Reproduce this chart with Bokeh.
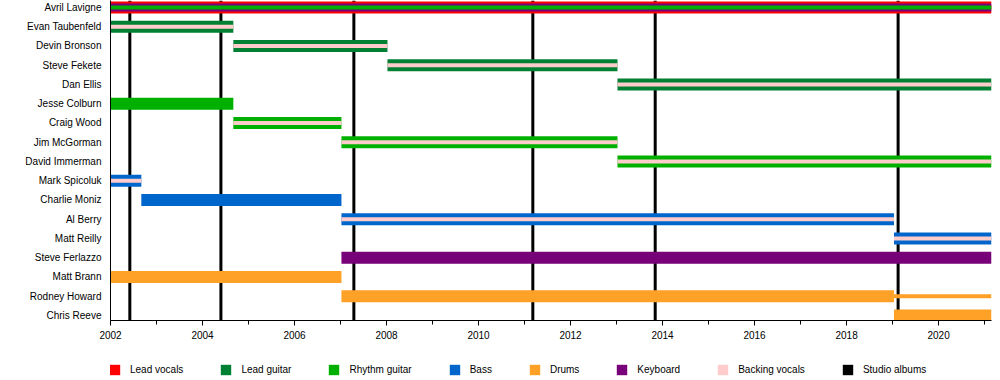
from bokeh.plotting import figure
from bokeh.models import Range1d, FixedTicker, ColumnDataSource, Legend, LegendItem
from bokeh.layouts import column
from bokeh.embed import file_html
from bokeh.resources import INLINE

# ---------------- data ----------------
members = ["Avril Lavigne", "Evan Taubenfeld", "Devin Bronson", "Steve Fekete", "Dan Ellis",
           "Jesse Colburn", "Craig Wood", "Jim McGorman", "David Immerman", "Mark Spicoluk",
           "Charlie Moniz", "Al Berry", "Matt Reilly", "Steve Ferlazzo", "Matt Brann",
           "Rodney Howard", "Chris Reeve"]

END = 2021.15

seg_member = ["Avril Lavigne", "Evan Taubenfeld", "Devin Bronson", "Steve Fekete", "Dan Ellis",
              "Jesse Colburn", "Craig Wood", "Jim McGorman", "David Immerman", "Mark Spicoluk",
              "Charlie Moniz", "Al Berry", "Matt Reilly", "Steve Ferlazzo", "Matt Brann",
              "Rodney Howard", "Rodney Howard", "Chris Reeve"]
seg_start = [2002.0, 2002.0, 2004.67, 2008.02, 2013.02,
             2002.0, 2004.67, 2007.02, 2013.02, 2002.0,
             2002.67, 2007.02, 2019.03, 2007.02, 2002.0,
             2007.02, 2019.03, 2019.03]
seg_end = [END, 2004.67, 2008.02, 2013.02, END,
           2004.67, 2007.02, 2013.02, END, 2002.67,
           2007.02, 2019.03, END, END, 2007.02,
           2019.03, END, END]
seg_role1 = ["Lead vocals", "Lead guitar", "Lead guitar", "Lead guitar", "Lead guitar",
             "Rhythm guitar", "Rhythm guitar", "Rhythm guitar", "Rhythm guitar", "Bass",
             "Bass", "Bass", "Bass", "Keyboard", "Drums",
             "Drums", "Drums", "Drums"]
seg_role2 = ["Keyboard", "Backing vocals", "Backing vocals", "Backing vocals", "Backing vocals",
             "", "Backing vocals", "Backing vocals", "Backing vocals", "Backing vocals",
             "", "Backing vocals", "Backing vocals", "", "",
             "", "", ""]
seg_role3 = ["Rhythm guitar", "", "", "", "",
             "", "", "", "", "",
             "", "", "", "", "",
             "", "", ""]
seg_kind = ["full"] * 16 + ["thin", "full"]

albums = [2002.42, 2004.40, 2007.29, 2011.18, 2013.84, 2019.12]

legend_labels = ["Lead vocals", "Lead guitar", "Rhythm guitar", "Bass", "Drums",
                 "Keyboard", "Backing vocals", "Studio albums"]
x_ticks = [2002, 2004, 2006, 2008, 2010, 2012, 2014, 2016, 2018, 2020]
x_minor = list(range(2002, 2022))

# ---------------- styling ----------------
colors = {"Lead vocals": "#FF0000", "Lead guitar": "#008033", "Rhythm guitar": "#00B000",
          "Bass": "#0066CC", "Drums": "#FFA126", "Keyboard": "#780078",
          "Backing vocals": "#FFCCCC", "Studio albums": "#000000"}
FONT = "Liberation Sans"

FRAME_W, FRAME_H = 881, 320
Y_TOP, Y_BOT = -0.36, 16.26
PX = (Y_BOT - Y_TOP) / FRAME_H      # y data units per pixel
XPX = (END - 2002) / FRAME_W        # x data units per pixel

row = {m: i for i, m in enumerate(members)}

p = figure(frame_width=FRAME_W, frame_height=FRAME_H, output_backend="svg", toolbar_location=None,
           x_range=Range1d(2002, END), y_range=Range1d(Y_BOT, Y_TOP),
           min_border_left=110, min_border_right=9, min_border_top=0, min_border_bottom=0)
p.xgrid.visible = False
p.ygrid.visible = False
p.outline_line_color = None
p.background_fill_color = "white"

# sources
sA = ColumnDataSource(dict(x=albums))
s1 = ColumnDataSource(dict(y=[row[m] for m in seg_member], left=seg_start, right=seg_end,
                           h=[(12 if k == "full" else 4) * PX for k in seg_kind],
                           c=[colors[r] for r in seg_role1]))
idx2 = [i for i, r in enumerate(seg_role2) if r]
s2 = ColumnDataSource(dict(y=[row[seg_member[i]] for i in idx2], left=[seg_start[i] for i in idx2],
                           right=[seg_end[i] for i in idx2],
                           h=[(8 if seg_role3[i] else 4) * PX for i in idx2],
                           c=[colors[seg_role2[i]] for i in idx2]))
idx3 = [i for i, r in enumerate(seg_role3) if r]
s3 = ColumnDataSource(dict(y=[row[seg_member[i]] for i in idx3], left=[seg_start[i] for i in idx3],
                           right=[seg_end[i] for i in idx3], h=[4 * PX for i in idx3],
                           c=[colors[seg_role3[i]] for i in idx3]))


def draw(fig):
    ra = fig.vbar(x="x", width=3 * XPX, top=Y_TOP, bottom=Y_BOT, source=sA,
                  fill_color="black", line_color=None)
    rs = [fig.hbar(y="y", left="left", right="right", height="h", fill_color="c",
                   line_color=None, source=s) for s in (s1, s2, s3)]
    return ra, rs


draw(p)

# axes
p.xaxis.ticker = FixedTicker(ticks=x_ticks, minor_ticks=x_minor)
p.xaxis.major_tick_in = 0
p.xaxis.major_tick_out = 5
p.xaxis.minor_tick_in = 0
p.xaxis.minor_tick_out = 4
p.xaxis.axis_line_color = "black"
p.xaxis.major_label_text_font = FONT
p.xaxis.major_label_text_font_size = "10px"
p.xaxis.major_label_text_color = "black"
p.xaxis.major_label_standoff = 5

p.yaxis.ticker = FixedTicker(ticks=list(range(len(members))))
p.yaxis.major_label_overrides = {i: m for i, m in enumerate(members)}
p.yaxis.major_tick_line_color = None
p.yaxis.minor_tick_line_color = None
p.yaxis.major_tick_out = 0
p.yaxis.major_tick_in = 0
p.yaxis.axis_line_color = "black"
p.yaxis.major_label_text_font = FONT
p.yaxis.major_label_text_font_size = "10px"
p.yaxis.major_label_text_color = "black"
p.yaxis.major_label_standoff = 9

# legend strip: same data, ranges that keep every mark out of view
lg = figure(width=1000, height=36, output_backend="svg", toolbar_location=None,
            x_range=Range1d(5000, 5001), y_range=Range1d(500, 501),
            x_axis_type=None, y_axis_type=None,
            min_border_left=0, min_border_right=0, min_border_top=0, min_border_bottom=0)
lg.xgrid.visible = False
lg.ygrid.visible = False
lg.outline_line_color = None
ra2, rs2 = draw(lg)

items = []
for lab in legend_labels:
    if lab == "Studio albums":
        items.append(LegendItem(label=lab, renderers=[ra2], index=0))
        continue
    for rr, s in zip(rs2, (s1, s2, s3)):
        cols = s.data["c"]
        if colors[lab] in cols:
            items.append(LegendItem(label=lab, renderers=[rr], index=cols.index(colors[lab])))
            break
legend = Legend(items=items, orientation="horizontal", glyph_width=13, glyph_height=13,
                label_standoff=9, spacing=36, padding=0, margin=0, label_height=13,
                border_line_color=None, background_fill_alpha=0,
                label_text_font=FONT, label_text_font_size="10px", label_text_color="black",
                location=(-2, 1))
lg.add_layout(legend)

open("out.html", "w").write(file_html(column(p, lg, spacing=0), INLINE))
